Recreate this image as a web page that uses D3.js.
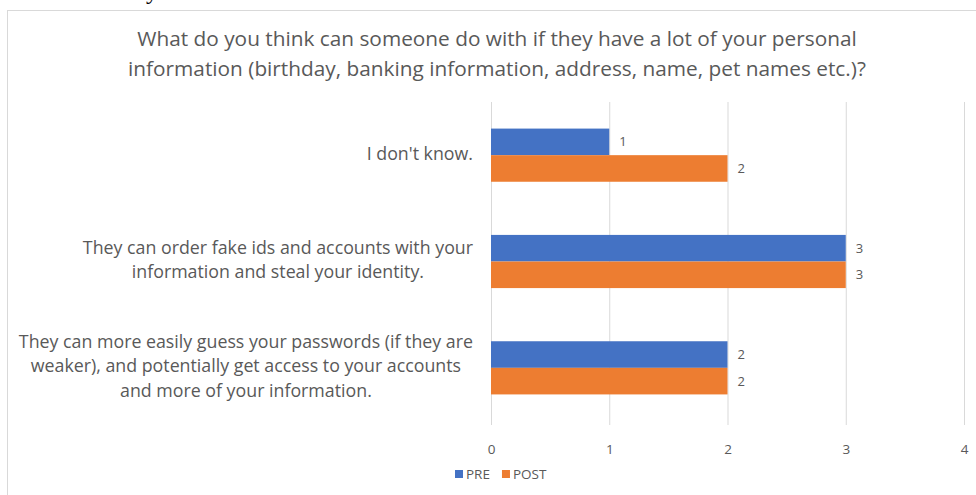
<!DOCTYPE html>
<html>
<head>
<meta charset="utf-8">
<script src="https://cdn.jsdelivr.net/npm/d3@7"></script>
<style>
  html, body { margin: 0; padding: 0; background: #fff; }
  svg { display: block; }
  text { font-family: "Open Sans", Lato, sans-serif; fill: #595959; }
</style>
</head>
<body>
<svg id="chart" width="976" height="495"></svg>
<script>
// Survey answers, one entry per category (top to bottom)
const categories = [
  ["I don't know."],
  ["They can order fake ids and accounts with your", "information and steal your identity."],
  ["They can more easily guess your passwords (if they are", "weaker), and potentially get access to your accounts", "and more of your information."]
];
const seriesNames = ["PRE", "POST"];
const preValues = [1, 3, 2];
const postValues = [2, 3, 2];
const xTicks = [0, 1, 2, 3, 4];
const titleLines = [
  "What do you think can someone do with if they have a lot of your personal",
  "information (birthday, banking information, address, name, pet names etc.)?"
];

const colors = { PRE: "#4472C4", POST: "#ED7D31" };
const svg = d3.select("#chart");

// Stray glyph of surrounding document text above the chart frame
svg.append("text").attr("x", 146).attr("y", -1)
  .style("font-family", "'Liberation Serif', serif").style("font-size", "24px")
  .style("fill", "#000").text("y");

// Chart frame
svg.append("rect").attr("x", 7.5).attr("y", 10.5).attr("width", 1000).attr("height", 600)
  .attr("fill", "#fff").attr("stroke", "#d9d9d9").attr("stroke-width", 1);

// Title
svg.append("g").selectAll("text").data(titleLines).join("text")
  .attr("x", 497).attr("y", (d, i) => 46 + i * 30)
  .attr("text-anchor", "middle").style("font-size", "20.8px").text(d => d);

const plot = { left: 491, right: 964, top: 102, bottom: 425 };
const x = d3.scaleLinear().domain([0, 4]).range([plot.left, plot.right]);
const y = d3.scaleBand().domain(d3.range(categories.length)).range([plot.top, plot.bottom - 4]).paddingInner(0.5).paddingOuter(0.25);
const ySub = d3.scaleBand().domain(seriesNames).range([0, y.bandwidth()]);

// Vertical gridlines
svg.append("g").selectAll("line").data(xTicks).join("line")
  .attr("x1", d => x(d) + 0.5).attr("x2", d => x(d) + 0.5)
  .attr("y1", plot.top).attr("y2", plot.bottom)
  .attr("stroke", "#d9d9d9").attr("stroke-width", 1);

// X axis tick labels
const xAxis = d3.axisBottom(x).tickValues(xTicks).tickSize(0).tickPadding(0).tickFormat(d3.format("d"));
const gx = svg.append("g").attr("transform", `translate(0,${plot.bottom + 19})`).call(xAxis);
gx.select(".domain").remove();
gx.selectAll("text").style("font-size", "13.5px").style("fill", "#595959").style("font-family", "'Open Sans', sans-serif");

// Bars and value labels
const rows = categories.map((c, i) => ({ i, values: [{ s: "PRE", v: preValues[i] }, { s: "POST", v: postValues[i] }] }));
const groups = svg.append("g").selectAll("g").data(rows).join("g")
  .attr("transform", d => `translate(0,${y(d.i)})`);
groups.selectAll("rect").data(d => d.values).join("rect")
  .attr("x", x(0)).attr("y", d => ySub(d.s))
  .attr("width", d => x(d.v) - x(0)).attr("height", ySub.bandwidth())
  .attr("fill", d => colors[d.s]);
groups.selectAll("text").data(d => d.values).join("text")
  .attr("x", d => x(d.v) + 10).attr("y", d => ySub(d.s) + ySub.bandwidth() / 2 + 4.5)
  .style("font-size", "13px").text(d => d.v);

// Category labels: lines centred within a block right-aligned to the axis
const labelRight = 473, lineH = 24.5;
categories.forEach((lines, i) => {
  const g = svg.append("g");
  const cy = y(i) + y.bandwidth() / 2;
  const t = g.selectAll("text").data(lines).join("text")
    .attr("text-anchor", "middle").style("font-size", "17.8px")
    .attr("y", (d, k) => cy + 4.5 + (k - (lines.length - 1) / 2) * lineH)
    .text(d => d);
  let maxW = 0;
  t.each(function () { maxW = Math.max(maxW, this.getComputedTextLength()); });
  t.attr("x", labelRight - maxW / 2);
});

// Legend
const legend = svg.append("g").attr("transform", "translate(455,474)");
let lx = 0;
seriesNames.forEach(name => {
  const item = legend.append("g").attr("transform", `translate(${lx},0)`);
  item.append("rect").attr("x", 0).attr("y", -4).attr("width", 8).attr("height", 8).attr("fill", colors[name]);
  const tx = item.append("text").attr("x", 11).attr("y", 5).style("font-size", "13.5px").text(name);
  lx += 11 + tx.node().getComputedTextLength() + 12;
});
</script>
</body>
</html>
